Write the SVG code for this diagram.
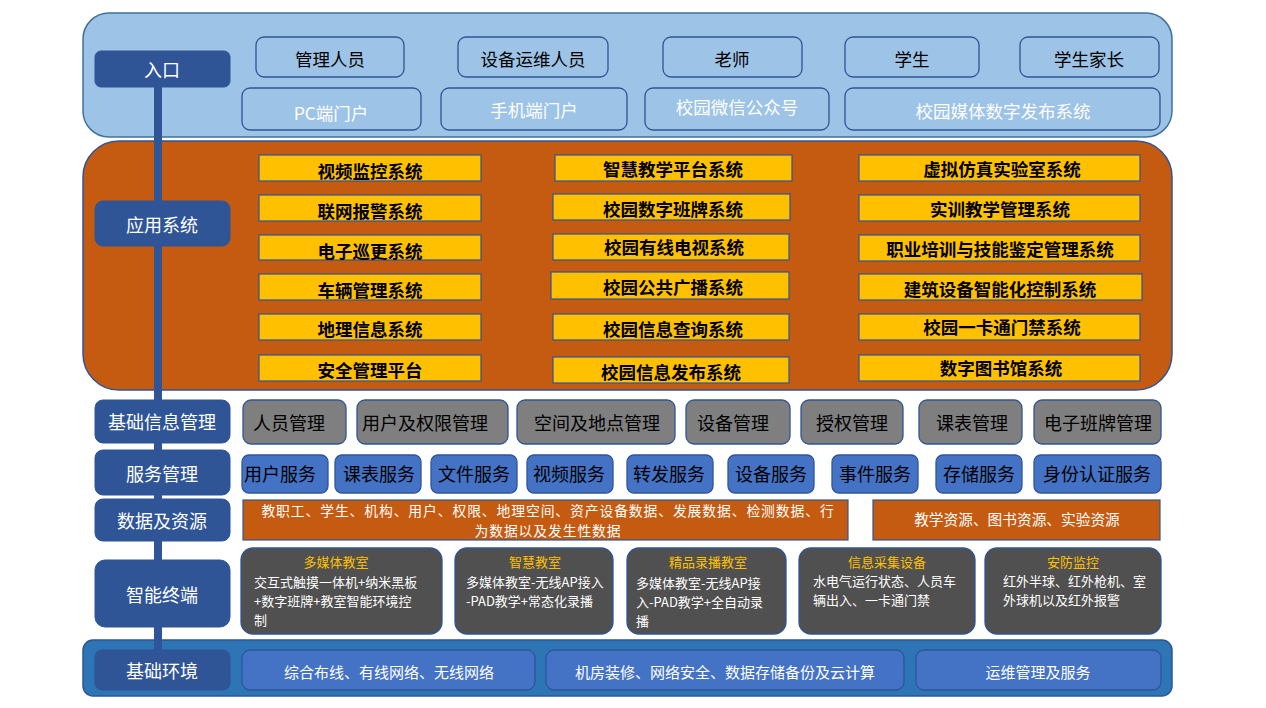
<svg xmlns="http://www.w3.org/2000/svg" width="1266" height="708" viewBox="0 0 1266 708">
<style>
text{font-family:"Microsoft YaHei","Noto Sans CJK SC",sans-serif;text-anchor:middle;dominant-baseline:central}
.panelTop{fill:#9DC3E6;stroke:#41719C;stroke-width:1.5}
.panelApp{fill:#C55A11;stroke:#2F5597;stroke-width:1.5}
.panelEnv{fill:#2E75B6;stroke:#2F5597;stroke-width:1.5}
.lbl{fill:#2F5597;stroke:#2F5597}
.lblT{fill:#fff;font-size:18px}
.role{fill:#9DC3E6;stroke:#2F5597;stroke-width:1.3}
.roleT{fill:#000;font-size:17.5px}
.portalT{fill:#fff;font-size:17.5px}
.sys{fill:#FFC000;stroke:#2F5597;stroke-width:1.2}
.sysT{fill:#000;font-size:17.5px;font-weight:bold}
.base{fill:#7F7F7F;stroke:#2F5597;stroke-width:1.3}
.baseT{fill:#000;font-size:18px}
.svc{fill:#4472C4;stroke:#2F5597;stroke-width:1.3}
.svcT{fill:#000;font-size:18px}
.data{fill:#C55A11;stroke:#2F5597;stroke-width:1.2}
.dataT{fill:#fff;font-size:14.7px}
.dataT2{fill:#fff;font-size:13.8px;letter-spacing:0.9px}
.term{fill:#505050;stroke:#2F5597;stroke-width:1.3}
.termH{fill:#FFC000;font-size:13px}
.termB{fill:#fff;font-size:13px;text-anchor:start}
.env{fill:#4472C4;stroke:#2F5597;stroke-width:1.3}
.envT{fill:#fff;font-size:15px}
</style>

<g id="panels">
<rect class="panelTop" x="83" y="13" width="1089" height="124" rx="26"/>
<rect class="panelApp" x="83" y="141" width="1089" height="249" rx="36"/>
<rect class="panelEnv" x="83" y="640" width="1089" height="56" rx="10"/>
</g>

<g id="connectors">
<rect x="154" y="86" width="8" height="566" fill="#2F5597"/>
</g>

<g id="layer-labels">
<g id="lbl-entry"><rect class="lbl" x="95" y="51" width="135" height="36" rx="6"/><text class="lblT" x="162" y="69">入口</text></g>
<g id="lbl-app"><rect class="lbl" x="95" y="201" width="135" height="45" rx="8"/><text class="lblT" x="162" y="224">应用系统</text></g>
<g id="lbl-base"><rect class="lbl" x="95" y="400" width="135" height="43" rx="8"/><text class="lblT" x="162" y="421">基础信息管理</text></g>
<g id="lbl-svc"><rect class="lbl" x="95" y="450" width="135" height="45" rx="8"/><text class="lblT" x="162" y="473">服务管理</text></g>
<g id="lbl-data"><rect class="lbl" x="95" y="499" width="135" height="42" rx="8"/><text class="lblT" x="162" y="520">数据及资源</text></g>
<g id="lbl-term"><rect class="lbl" x="95" y="560" width="135" height="67" rx="10"/><text class="lblT" x="162" y="594">智能终端</text></g>
<g id="lbl-env"><rect x="95" y="650" width="135" height="40" rx="7" fill="#2F5597" stroke="#2F5597"/><text class="lblT" x="162" y="670">基础环境</text></g>
</g>

<g id="roles">
<g id="r1"><rect class="role" x="256" y="37" width="148" height="40" rx="8"/><text class="roleT" x="330" y="58">管理人员</text></g>
<g id="r2"><rect class="role" x="458" y="37" width="150" height="40" rx="8"/><text class="roleT" x="533" y="58">设备运维人员</text></g>
<g id="r3"><rect class="role" x="663" y="37" width="139" height="40" rx="8"/><text class="roleT" x="732" y="58">老师</text></g>
<g id="r4"><rect class="role" x="845" y="37" width="134" height="40" rx="8"/><text class="roleT" x="912" y="58">学生</text></g>
<g id="r5"><rect class="role" x="1020" y="37" width="139" height="40" rx="8"/><text class="roleT" x="1089" y="58">学生家长</text></g>
</g>

<g id="portals">
<g id="p1"><rect class="role" x="242" y="88" width="179" height="42" rx="8"/><text class="portalT" x="331" y="112">PC端门户</text></g>
<g id="p2"><rect class="role" x="441" y="88" width="186" height="42" rx="8"/><text class="portalT" x="534" y="109">手机端门户</text></g>
<g id="p3"><rect class="role" x="645" y="88" width="184" height="42" rx="8"/><text class="portalT" x="737" y="106">校园微信公众号</text></g>
<g id="p4"><rect class="role" x="845" y="88" width="315" height="42" rx="8"/><text class="portalT" x="1003" y="110">校园媒体数字发布系统</text></g>
</g>

<g id="apps">
<g id="a11"><rect class="sys" x="259" y="155" width="222" height="26"/><text class="sysT" x="370" y="170">视频监控系统</text></g>
<g id="a12"><rect class="sys" x="259" y="195" width="222" height="26"/><text class="sysT" x="370" y="210">联网报警系统</text></g>
<g id="a13"><rect class="sys" x="259" y="235" width="222" height="25"/><text class="sysT" x="370" y="250">电子巡更系统</text></g>
<g id="a14"><rect class="sys" x="259" y="274" width="222" height="26"/><text class="sysT" x="370" y="289">车辆管理系统</text></g>
<g id="a15"><rect class="sys" x="259" y="314" width="222" height="26"/><text class="sysT" x="370" y="328">地理信息系统</text></g>
<g id="a16"><rect class="sys" x="259" y="355" width="222" height="26"/><text class="sysT" x="370" y="369">安全管理平台</text></g>

<g id="a21"><rect class="sys" x="555" y="155" width="237" height="26"/><text class="sysT" x="673" y="168">智慧教学平台系统</text></g>
<g id="a22"><rect class="sys" x="553" y="194" width="237" height="26"/><text class="sysT" x="673" y="208">校园数字班牌系统</text></g>
<g id="a23"><rect class="sys" x="553" y="234" width="236" height="26"/><text class="sysT" x="674" y="246">校园有线电视系统</text></g>
<g id="a24"><rect class="sys" x="551" y="272" width="238" height="27"/><text class="sysT" x="673" y="286">校园公共广播系统</text></g>
<g id="a25"><rect class="sys" x="553" y="314" width="236" height="26"/><text class="sysT" x="673" y="328">校园信息查询系统</text></g>
<g id="a26"><rect class="sys" x="553" y="357" width="236" height="26"/><text class="sysT" x="671" y="371">校园信息发布系统</text></g>

<g id="a31"><rect class="sys" x="859" y="155" width="281" height="26"/><text class="sysT" x="1002" y="168">虚拟仿真实验室系统</text></g>
<g id="a32"><rect class="sys" x="859" y="195" width="281" height="26"/><text class="sysT" x="1000" y="208">实训教学管理系统</text></g>
<g id="a33"><rect class="sys" x="859" y="235" width="281" height="26"/><text class="sysT" x="1000" y="248">职业培训与技能鉴定管理系统</text></g>
<g id="a34"><rect class="sys" x="859" y="274" width="283" height="26"/><text class="sysT" x="1000" y="288">建筑设备智能化控制系统</text></g>
<g id="a35"><rect class="sys" x="859" y="314" width="281" height="26"/><text class="sysT" x="1002" y="326">校园一卡通门禁系统</text></g>
<g id="a36"><rect class="sys" x="859" y="355" width="281" height="26"/><text class="sysT" x="1001" y="367">数字图书馆系统</text></g>
</g>

<g id="base-info">
<g id="b1"><rect class="base" x="243" y="400" width="103" height="44" rx="8"/><text class="baseT" x="289" y="422">人员管理</text></g>
<g id="b2"><rect class="base" x="357" y="400" width="151" height="44" rx="8"/><text class="baseT" x="425" y="422">用户及权限管理</text></g>
<g id="b3"><rect class="base" x="517" y="400" width="158" height="44" rx="8"/><text class="baseT" x="597" y="422">空间及地点管理</text></g>
<g id="b4"><rect class="base" x="686" y="400" width="104" height="44" rx="8"/><text class="baseT" x="733" y="422">设备管理</text></g>
<g id="b5"><rect class="base" x="801" y="400" width="102" height="44" rx="8"/><text class="baseT" x="852" y="422">授权管理</text></g>
<g id="b6"><rect class="base" x="919" y="400" width="103" height="44" rx="8"/><text class="baseT" x="972" y="422">课表管理</text></g>
<g id="b7"><rect class="base" x="1034" y="400" width="127" height="44" rx="8"/><text class="baseT" x="1098" y="422">电子班牌管理</text></g>
</g>

<g id="services">
<g id="s1"><rect class="svc" x="242" y="455" width="86" height="38" rx="7"/><text class="svcT" x="280" y="473">用户服务</text></g>
<g id="s2"><rect class="svc" x="335" y="455" width="86" height="38" rx="7"/><text class="svcT" x="379" y="473">课表服务</text></g>
<g id="s3"><rect class="svc" x="431" y="455" width="86" height="38" rx="7"/><text class="svcT" x="474" y="473">文件服务</text></g>
<g id="s4"><rect class="svc" x="527" y="455" width="86" height="38" rx="7"/><text class="svcT" x="569" y="473">视频服务</text></g>
<g id="s5"><rect class="svc" x="627" y="455" width="86" height="38" rx="7"/><text class="svcT" x="669" y="473">转发服务</text></g>
<g id="s6"><rect class="svc" x="728" y="455" width="86" height="38" rx="7"/><text class="svcT" x="771" y="473">设备服务</text></g>
<g id="s7"><rect class="svc" x="832" y="455" width="86" height="38" rx="7"/><text class="svcT" x="875" y="473">事件服务</text></g>
<g id="s8"><rect class="svc" x="936" y="455" width="86" height="38" rx="7"/><text class="svcT" x="979" y="473">存储服务</text></g>
<g id="s9"><rect class="svc" x="1034" y="455" width="127" height="38" rx="7"/><text class="svcT" x="1097" y="473">身份认证服务</text></g>
</g>

<g id="data">
<g id="d1"><rect class="data" x="243" y="500" width="605" height="40"/><text class="dataT2"><tspan x="548" y="510">教职工、学生、机构、用户、权限、地理空间、资产设备数据、发展数据、检测数据、行</tspan><tspan x="548" y="530">为数据以及发生性数据</tspan></text></g>
<g id="d2"><rect class="data" x="873" y="500" width="287" height="40"/><text class="dataT" x="1017" y="518">教学资源、图书资源、实验资源</text></g>
</g>

<g id="terminals">
<g id="t1"><rect class="term" x="241" y="548" width="201" height="86" rx="12"/><text class="termH" x="336" y="561">多媒体教室</text><text class="termB"><tspan x="254" y="581">交互式触摸一体机+纳米黑板</tspan><tspan x="254" y="600">+数字班牌+教室智能环境控</tspan><tspan x="254" y="619">制</tspan></text></g>
<g id="t2"><rect class="term" x="455" y="548" width="158" height="86" rx="12"/><text class="termH" x="535" y="561">智慧教室</text><text class="termB"><tspan x="466" y="581">多媒体教室-无线AP接入</tspan><tspan x="466" y="600">-PAD教学+常态化录播</tspan></text></g>
<g id="t3"><rect class="term" x="627" y="548" width="159" height="86" rx="12"/><text class="termH" x="708" y="561">精品录播教室</text><text class="termB"><tspan x="636" y="582">多媒体教室-无线AP接</tspan><tspan x="636" y="601">入-PAD教学+全自动录</tspan><tspan x="636" y="620">播</tspan></text></g>
<g id="t4"><rect class="term" x="799" y="548" width="176" height="86" rx="12"/><text class="termH" x="887" y="561">信息采集设备</text><text class="termB"><tspan x="813" y="580">水电气运行状态、人员车</tspan><tspan x="813" y="599">辆出入、一卡通门禁</tspan></text></g>
<g id="t5"><rect class="term" x="985" y="548" width="176" height="86" rx="12"/><text class="termH" x="1073" y="561">安防监控</text><text class="termB"><tspan x="1003" y="580">红外半球、红外枪机、室</tspan><tspan x="1003" y="599">外球机以及红外报警</tspan></text></g>
</g>

<g id="environment">
<g id="e1"><rect class="env" x="242" y="650" width="293" height="40" rx="8"/><text class="envT" x="389" y="671">综合布线、有线网络、无线网络</text></g>
<g id="e2"><rect class="env" x="546" y="650" width="358" height="40" rx="8"/><text class="envT" x="725" y="671">机房装修、网络安全、数据存储备份及云计算</text></g>
<g id="e3"><rect class="env" x="916" y="650" width="245" height="40" rx="8"/><text class="envT" x="1038" y="671">运维管理及服务</text></g>
</g>
</svg>
